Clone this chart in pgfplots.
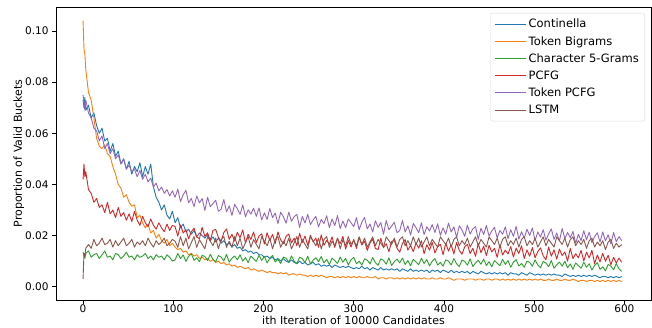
\documentclass[border=0pt]{standalone}
\usepackage{pgfplots}
\usepackage{pgfplotstable}
\pgfplotsset{compat=1.18}
\usepackage{fontspec}
\setmainfont{DejaVu Sans}
\definecolor{tabblue}{HTML}{1F77B4}
\definecolor{taborange}{HTML}{FF7F0E}
\definecolor{tabgreen}{HTML}{2CA02C}
\definecolor{tabred}{HTML}{D62728}
\definecolor{tabpurple}{HTML}{9467BD}
\definecolor{tabbrown}{HTML}{8C564B}
% values in thousandths (0.001 units)
\pgfplotstableread{
x co tb c5 pc tp ls
0 73 104 13.5 42 75 3
1 70 93 12.5 48 72 13
2 74 91 11 43 69 12
3 69 85 13 45 73 15
6 71 76 14 38 68 16.5
9 66 73 11.5 36.5 66 15
12 68 66 12.5 33 62 18.5
15 63 58 13 34.5 61 16
18 60 55 11 31 57 17
21 62 54 12.5 32 59 19
24 57 55.5 14 29 54 16.5
27 58 52 11.5 33 56 17
30 53 51 12 28.5 52 18.5
33 56 47 10.5 30 54 15.5
36 51 44 13 27 50 18
39 53 40 12.5 31 51.5 16
42 48 38.5 11 27.5 48 17.5
45 50 35 12 29 50 19
48 46 36 13.5 26 46 16
51 49 33 11.5 28.5 47.5 17
54 44 31.5 12 25.5 45 18.5
57 47 32 10.5 29.5 46 15.5
60 45 27 12.5 26 43 17.5
63 48.5 28 11.5 24 45.5 16.5
66 43 25 12 27.5 42 18
69 47 23 13 25 44 16
72 44 24.5 11 23.5 41 19
75 48 21 12 26.5 42.5 17
78 39 22 10.5 24 39 15.5
81 35 19 12.5 22.5 40.5 18
84 33 20.5 11.5 25 37.5 16.5
87 30 18 12 23 39 17.5
90 32 17 10.5 21.5 36.5 19
93 28 18.5 12.5 24.5 38 16
96 26.5 16 11.5 22 35.5 17
99 29.5 17 10 24 37.5 18.5
102 25 15.5 10.5 23.5 35 17.8
105 27 14.5 13 19.8 38.2 15.4
108 23 15 11 24.2 33.3 19.6
111 24.5 13.5 12.4 21 36 16
114 21.5 14 9.9 22.3 37.7 19
117 22.5 12.5 11.9 18.7 32.8 14.8
120 20.5 13 12.9 21.5 34.5 17.2
123 22 12 10.3 22.9 31.3 19.6
126 19.5 12.5 11.3 19.4 35.5 15.4
129 21 11 9.8 18.8 32.8 18.4
132 20 11.5 12.3 23.2 34.5 16.6
135 19 10.5 11.8 19.7 29.8 14.8
138 20.5 11 10.2 21.1 35 19.6
141 18 10 12.7 18 31.3 17.8
144 19.5 10.5 10.7 22 32.5 16
147 17.5 9.5 9.7 22.4 33.8 19
150 19 10 12.2 19.3 29.5 14.8
153 17 9 11.6 17.7 30.3 18.4
156 18 9.5 10.1 21.2 34.1 19.6
159 16.5 8.5 12.6 22.6 29.3 15.4
162 17 9 9.6 18.5 31.6 17.8
165 15.5 8 11.1 20.5 27.9 15.4
168 16.5 8.5 12 17.9 32.2 19.6
171 15 7.5 10.5 21.3 30.5 16
174 15.5 8 12.5 19.2 28.3 19
177 14 7.5 10 22.2 32 14.8
180 14.5 7 11.4 17.1 27.3 17.2
183 13.5 7.5 9.4 20.5 30.1 19.6
186 14 6.5 11.9 18.5 28.4 15.4
189 13 7 10.9 21.4 30.7 18.4
192 13.5 6.5 9.9 17.3 27.5 16.6
195 12.5 6 12.3 19.8 30.8 14.8
198 12.5 6.5 10.3 20.7 26.1 19.6
201 11.5 6 11.8 16.7 28.9 17.8
204 12 5.5 9.3 21.1 26.3 16
207 11 6 11.2 18.1 30.6 19
210 11.5 5.5 12.2 20.5 27 14.8
213 10.5 5.5 9.7 16.9 28.8 18.4
216 11 5 10.7 21.4 24.7 19.6
219 10 5.5 9.1 18.3 29.1 15.4
222 11 5 11.6 16.8 27.4 17.8
225 10 5.5 11.1 19.7 24.8 16
228 9.5 4.5 9.6 20.6 29.2 19
231 10.5 5 12 17.1 25.6 14.8
234 9.5 5 10 19 27.4 17.2
237 9 4.5 9 16 28.3 19.6
240 10 5 11.5 20.9 23.2 15.4
243 9 4.5 11 17.3 27.5 18.4
246 9.5 4.5 9.4 19.8 24.9 16.6
249 8.5 4 11.9 16.2 28.3 14.8
252 9 4.5 8.9 20.1 24.3 19.6
255 9.5 4 10.4 17.5 26.1 17.8
258 8.5 4.5 11.3 19 27.5 16
261 9 4 9.8 15.4 23.4 19
264 8 4.5 11.8 20.3 26.3 14.8
267 8.5 4 9.3 16.2 24.7 18.4
270 8 3.5 10.7 18.1 27.7 19.6
273 8.5 4 8.7 16.6 23.1 15.4
276 7.5 4 11.2 19.5 26.5 17.8
279 8.5 3.5 10.2 15.4 23.9 16
282 8 4 9.1 18.9 27.8 19
285 7.5 3.5 11.6 16.8 22.7 14.8
288 8 4 9.6 19.7 25.7 18.4
291 7.5 3.5 11.1 14.7 23.1 16
294 8 4 8.5 18.1 26.5 19.6
297 7.5 3.5 10.5 15.5 25 16.6
300 7 4 11.5 18.5 23.5 18
303 7.5 3.5 9 15 27 16
306 7 4 10 19.3 22.3 19.5
309 8 3.5 8.5 16.3 25.2 16.5
312 7 3.5 10.9 17.8 27.1 19
315 7.5 4 10.4 14.2 22.6 15.5
318 6.5 3.5 8.9 17.1 24.5 17.5
321 7.5 3.5 11.4 18.6 21.4 19.5
324 7 4 9.4 15 25.8 16
327 6.5 3 8.4 14.5 23.2 18.5
330 7.5 3.5 10.9 18.9 25.1 17
333 6.5 3.5 10.3 15.3 20.5 15.5
336 7 3 8.8 16.8 25.9 19.5
339 6.5 3.5 11.3 13.7 22.3 18
342 7 3.5 8.3 17.7 23.7 16.5
345 6.5 3 9.8 18.1 25.2 19
348 7 3.5 10.8 15 21.1 15.5
351 6 3 9.3 13.5 22 18.5
354 7 3.5 11.2 16.9 25.9 19.5
357 6.5 3 8.7 18.4 21.4 16
360 6 3.5 10.2 14.3 23.8 18
363 7 3 8.2 16.2 20.2 16
366 6 3.5 10.7 13.7 24.7 19.5
369 6.5 3 9.7 17.1 23.1 16.5
372 6 3.5 8.6 15.1 21.1 19
375 6.5 3 11.1 18 25 15.5
378 6 3.5 9.1 12.9 20.4 17.5
381 6.5 3 10.6 16.4 23.4 19.5
384 5.5 3 8.1 14.3 21.8 16
387 6.5 3.5 10 17.3 24.3 18.5
390 6 3 11 13.2 21.2 17
393 6.5 3 8.5 15.6 24.6 15.5
396 5.5 3.5 9.5 16.6 20.1 19.5
399 6.5 3 8 12.5 23 18
402 6 3 10.5 17 20.5 16.5
405 5.5 3.5 10 13.9 24.9 19
408 6.5 3 8.5 16.4 21.4 15.5
411 5.5 2.5 11 12.8 23.4 18.5
414 6 3 9 17.3 19.3 19.5
417 5.5 3 7.9 14.2 23.8 16
420 6 3 10.4 12.7 22.2 18
423 5.5 2.5 9.9 15.6 19.7 16.5
426 6 3 8.4 16.6 24.1 19
429 5 3 10.9 13 20.6 15.5
432 6 3 7.9 15 22.6 17.5
435 5.5 2.5 9.3 11.9 23.5 19.5
438 5 3 10.3 16.9 18.5 16
441 6 3 8.8 13.3 22.9 18.5
444 5.5 2.5 10.8 15.8 20.4 17
447 5 3 8.3 12.2 23.9 15.5
450 5.5 3 9.8 16.2 19.8 19.5
453 5 2.5 7.8 13.6 21.8 18
456 5.5 3 10.2 15 23.2 16.5
459 5 3 9.2 11.5 19.1 19
462 5.5 2.5 8.2 16.4 22 15.5
465 5 3 10.7 12.4 20.5 18.5
468 5.5 2.5 8.7 14.3 23.4 19.5
471 4.5 3 10.2 12.8 18.8 16
474 5.5 2.5 7.6 15.7 22.3 18
477 5 3 9.6 11.6 19.7 16.5
480 5 2.5 10.6 15.1 23.6 19
483 4.5 3 8.1 13 18.6 15.5
486 5.5 2.5 9.1 16 21.5 18.5
489 5 3 7.6 11 19 19.5
492 4.5 2.5 10 14.4 22.5 16
495 5.5 3 9.5 11.9 20 18
498 5 2.5 8 15.3 23 16.5
501 4.5 3 10.5 11.3 18 19
504 5 2.5 8.5 13.7 21.4 15.5
507 4.5 3 7.4 15.2 19.4 17.5
510 5 2.5 9.9 12.1 22.3 19.5
513 4.5 2.5 9.3 10.5 18.2 16
516 5 3 7.8 15.5 20.7 18.5
519 4.5 2.5 10.2 11.9 22.6 17
522 5 2.5 7.2 14.4 18.5 15.5
525 4.5 3 8.6 10.8 21 19.5
528 4.5 2.5 9.6 14.7 17.9 18
531 4 2.5 8 12.2 22.8 16.5
534 5 3 10 13.6 18.8 19
537 4.5 2.5 7.4 10 21.2 15.5
540 4 2.5 8.9 15 19.2 18.5
543 4.5 3 6.8 11 21.6 19.5
546 4 2.5 9.3 12.9 17 16
549 4.5 2 8.2 11.3 20.5 18
552 4 2.5 7.2 14.2 18 16.5
555 4.5 2.5 9.6 10.1 21.9 18.5
558 4 2 7.6 13.5 18.3 15
561 4.5 2.5 9 11.3 21.3 18
564 4 2.5 6.5 14.2 17.2 19
567 4.5 2 8.4 9 19.6 15.5
570 4 2.5 9.4 12.4 21.1 17.5
573 3.5 2 6.8 9.7 17.5 16
576 4 2.5 7.8 13.1 21.4 18
579 4 2 6.2 9.9 17.9 14.5
582 3.5 2.5 8.7 12.3 20.3 17.5
585 4 2 8.1 8.6 16.7 18.5
588 3.5 2.5 6.6 11.5 21.2 15
591 4 2 9.1 9.3 17.6 17
594 3.5 2.5 7 11.2 19.6 15.5
597 4 2 6 9.5 18 16.5
}\data
\begin{document}
\begin{tikzpicture}
\useasboundingbox (-56pt,-28pt) rectangle (596pt,300pt);
\begin{axis}[
  at={(0,0)}, anchor=south west,
  scale only axis, width=595pt, height=293pt,
  xmin=-30, xmax=629.5, ymin=-5.2, ymax=109.4,
  xtick={0,100,200,300,400,500,600},
  ytick={0,20,40,60,80,100},
  yticklabels={0.00,0.02,0.04,0.06,0.08,0.10},
  tick align=outside, xtick pos=bottom, ytick pos=left,
  major tick length=4pt,
  tick style={black, line width=0.8pt},
  axis line style={black, line width=0.8pt},
  /pgf/number format/assume math mode=true,
  tick label style={font=\fontsize{10.5}{12}\selectfont},
  xticklabel shift=-3pt,
  label style={font=\fontsize{11}{13}\selectfont},
  xlabel={ith Iteration of 10000 Candidates},
  ylabel={Proportion of Valid Buckets},
  xlabel style={yshift=3pt},
  ylabel style={yshift=-6pt},
  legend style={at={(rel axis cs:0.99,0.98)}, anchor=north east,
    draw=black!15, rounded corners=2pt, font=\fontsize{11.5}{13}\selectfont,
    row sep=3pt, inner xsep=4pt, inner ysep=4pt},
  legend cell align=left,
  legend image code/.code={\path (0pt,0pt) -- (31pt,0pt);\draw[#1, line width=1pt] (0pt,0pt) -- (25pt,0pt);},
  every axis plot/.append style={line width=0.9pt, line join=round},
]
\addplot[tabblue, no markers] table[x=x, y=co] {\data};
\addlegendentry{Continella}
\addplot[taborange, no markers] table[x=x, y=tb] {\data};
\addlegendentry{Token Bigrams}
\addplot[tabgreen, no markers] table[x=x, y=c5] {\data};
\addlegendentry{Character 5-Grams}
\addplot[tabred, no markers] table[x=x, y=pc] {\data};
\addlegendentry{PCFG}
\addplot[tabpurple, no markers] table[x=x, y=tp] {\data};
\addlegendentry{Token PCFG}
\addplot[tabbrown, no markers] table[x=x, y=ls] {\data};
\addlegendentry{LSTM}
\end{axis}
\end{tikzpicture}
\end{document}
